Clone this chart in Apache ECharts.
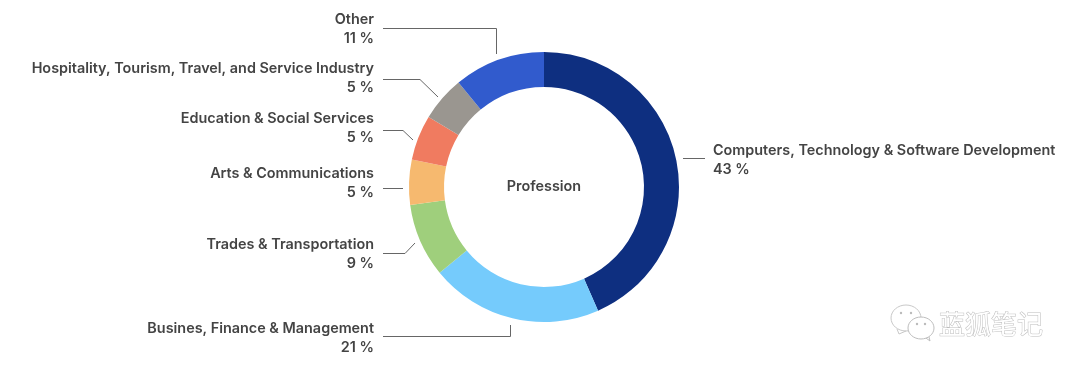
<!DOCTYPE html>
<html>
<head>
<meta charset="utf-8">
<style>
  html, body { margin: 0; background: #fff; }
  #chart { width: 1080px; height: 372px; }
</style>
<script src="https://cdn.jsdelivr.net/npm/echarts@6/dist/echarts.min.js"></script>
</head>
<body>
<div id="chart"></div>
<script>
const categories = [
  'Computers, Technology & Software Development',
  'Busines, Finance & Management',
  'Trades & Transportation',
  'Arts & Communications',
  'Education & Social Services',
  'Hospitality, Tourism, Travel, and Service Industry',
  'Other'
]
// slice sizes as measured on the ring, the printed labels round them
const shares = [43.4, 20.6, 8.8, 5.4, 5.4, 5.4, 10.9]
const colors = ['#0e2f80', '#75cbfc', '#9fcf7c', '#f6b96f', '#f07b60', '#9a9690', '#315bcd']

// label anchor [x, y] and leader line for each slice, same order as categories
const labelSpots = [
  [713, 160], [374, 338], [374, 254], [374, 183], [374, 128], [374, 78], [374, 29]
]
const leaderLines = [
  [[683, 158.5], [705, 158.5]],
  [[383, 336.5], [510.5, 336.5], [510.5, 325]],
  [[383, 253.5], [405, 253.5], [415, 243]],
  [[383, 188.5], [403, 188.5]],
  [[383, 130.5], [403, 130.5], [413, 140]],
  [[383, 79.5], [420, 79.5], [438, 97]],
  [[383, 28.5], [496.5, 28.5], [496.5, 54]]
]

const textFont = 'Inter'
const textSize = 14.4
const chart = echarts.init(document.getElementById('chart'))

chart.setOption({
  animation: false,
  graphic: [
    {
      type: 'text',
      x: 544,
      y: 187,
      style: {
        text: 'Profession',
        x: 0,
        y: 0,
        align: 'center',
        verticalAlign: 'middle',
        fontFamily: textFont,
        fontWeight: 600,
        fontSize: textSize,
        fill: '#444'
      }
    },
    {
      type: 'text',
      x: 939,
      y: 324,
      style: {
        text: '蓝狐笔记',
        align: 'left',
        verticalAlign: 'middle',
        fontFamily: 'Noto Sans CJK SC',
        fontSize: 26,
        fill: '#fff',
        stroke: '#bdbdbd',
        lineWidth: 1
      }
    },
    { type: 'ellipse', shape: { cx: 906, cy: 318, rx: 15, ry: 13 }, style: { fill: '#fff', stroke: '#c8c8c8' } },
    { type: 'ellipse', shape: { cx: 921, cy: 328, rx: 13, ry: 11 }, style: { fill: '#fff', stroke: '#bdbdbd' } },
    { type: 'polyline', shape: { points: [[897, 329], [899, 334], [906, 331]] }, style: { fill: 'none', stroke: '#c8c8c8' } },
    { type: 'polyline', shape: { points: [[926, 338], [930, 341], [929, 337]] }, style: { fill: 'none', stroke: '#bdbdbd' } },
    { type: 'circle', shape: { cx: 901, cy: 313, r: 1.2 }, style: { fill: '#bbb' } },
    { type: 'circle', shape: { cx: 911, cy: 313, r: 1.2 }, style: { fill: '#bbb' } },
    { type: 'circle', shape: { cx: 917, cy: 324, r: 1.2 }, style: { fill: '#bbb' } },
    { type: 'circle', shape: { cx: 925, cy: 324, r: 1.2 }, style: { fill: '#bbb' } }
  ],
  series: [
    {
      type: 'pie',
      center: [544, 187],
      radius: [100, 135],
      startAngle: 90,
      clockwise: true,
      silent: true,
      data: categories.map((name, i) => ({
        name,
        value: shares[i],
        itemStyle: { color: colors[i] }
      })),
      label: {
        show: true,
        formatter: (params) => params.name + '\n' + Math.round(params.value) + ' %',
        fontFamily: textFont,
        fontWeight: 600,
        fontSize: textSize,
        lineHeight: 19,
        color: '#444'
      },
      labelLine: {
        show: true,
        lineStyle: { color: '#666', width: 1 }
      },
      labelLayout: (params) => {
        const spot = labelSpots[params.dataIndex]
        return {
          x: spot[0],
          y: spot[1],
          align: params.dataIndex === 0 ? 'left' : 'right',
          verticalAlign: 'middle',
          labelLinePoints: leaderLines[params.dataIndex]
        }
      }
    }
  ]
})
</script>
</body>
</html>
